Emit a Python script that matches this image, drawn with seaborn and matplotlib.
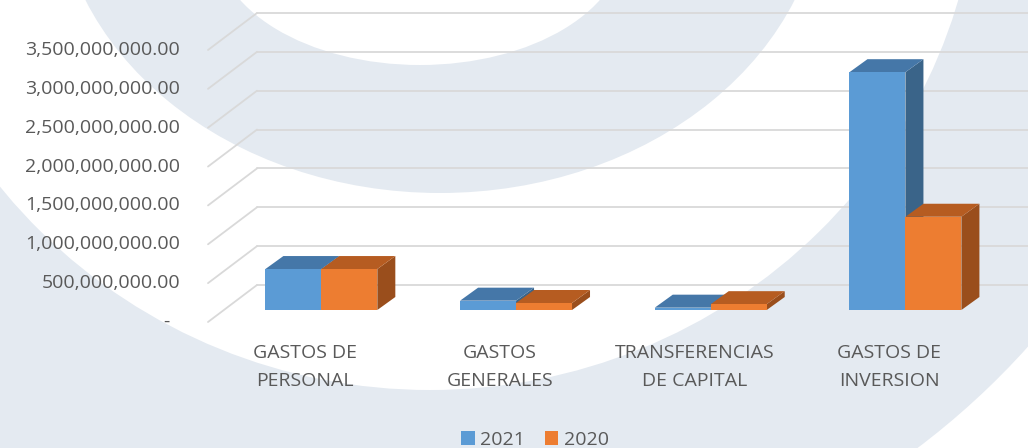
import pandas as pd
import seaborn as sb
import matplotlib.pyplot as plt
from matplotlib.patches import Ellipse, Polygon

# data (pesos)
categorias = ['GASTOS DE\nPERSONAL', 'GASTOS\nGENERALES', 'TRANSFERENCIAS\nDE CAPITAL', 'GASTOS DE\nINVERSION']
valores_2021 = [527000000, 120000000, 30000000, 3060000000]
valores_2020 = [527000000, 90000000, 75000000, 1200000000]
anios = ['2021', '2020']
yticks = [0, 500000000, 1000000000, 1500000000, 2000000000, 2500000000, 3000000000, 3500000000]

df = pd.DataFrame({
    'categoria': categorias * 2,
    'valor': valores_2021 + valores_2020,
    'anio': [anios[0]] * 4 + [anios[1]] * 4,
})

front_colors = ['#5B9BD5', '#ED7D31']
top_colors = ['#4577A8', '#B65C21']
side_colors = ['#3A6489', '#9A4E1C']
text_color = '#595959'
grid_color = '#D9D9D9'

sb.set_style('white')
plt.rcParams['font.family'] = ['Open Sans', 'DejaVu Sans']

W, H = 1028, 448
fig = plt.figure(figsize=(W / 100, H / 100), dpi=100)

# faint watermark rings in the background
bg = fig.add_axes([0, 0, 1, 1], zorder=0)
bg.set_xlim(0, W)
bg.set_ylim(H, 0)
bg.axis('off')
wm = '#E4EAF1'
bg.add_patch(Ellipse((430, -150), 2 * 790, 2 * 760, color=wm, lw=0))
bg.add_patch(Ellipse((430, -150), 2 * 550, 2 * 540, color='white', lw=0))
bg.add_patch(Ellipse((440, -120), 2 * 384, 2 * 313, color=wm, lw=0))
bg.add_patch(Ellipse((420, -60), 2 * 205, 2 * 125, color='white', lw=0))

# main axes sits on the plane of the bars' front faces
ax = fig.add_axes([224 / W, 138 / H, 771 / W, 272 / H], zorder=1)
ax.patch.set_alpha(0)

sb.barplot(data=df, x='categoria', y='valor', hue='anio', hue_order=anios,
           palette=front_colors, saturation=1, width=0.575, linewidth=0,
           zorder=5, ax=ax)

x0, x1 = -0.5, 3.46
ymax = 3500000000
ax.set_xlim(x0, x1)
ax.set_ylim(0, ymax)
ppx = 771 / (x1 - x0)   # pixels per category unit
ppy = 272 / ymax        # pixels per peso

# offsets (px) of the front wall, back wall and bar depth
fdx, fdy = -16, -12
bdx, bdy = 33, 25
ddx, ddy = 18 / ppx, 13 / ppy

# gridlines: back wall + diagonal on the side wall
for v in yticks:
    ax.plot([x0 + bdx / ppx, x1 + bdx / ppx], [v + bdy / ppy, v + bdy / ppy],
            color=grid_color, lw=1.3, zorder=1, clip_on=False)
    ax.plot([x0 + fdx / ppx, x0 + bdx / ppx], [v + fdy / ppy, v + bdy / ppy],
            color=grid_color, lw=1.3, zorder=1, clip_on=False)
    lab = f'{v:,.2f}' if v else '-  '
    ax.text(x0 + (fdx - 28) / ppx, v + fdy / ppy, lab, ha='right', va='center',
            fontsize=14, color=text_color, zorder=6)

# 3D look: top and side faces from each bar
for i, cont in enumerate(ax.containers):
    for r in cont:
        bx, bw, bh = r.get_x(), r.get_width(), r.get_height()
        top = Polygon([(bx, bh), (bx + bw, bh), (bx + bw + ddx, bh + ddy), (bx + ddx, bh + ddy)],
                      closed=True, color=top_colors[i], lw=0, zorder=3 + i)
        side = Polygon([(bx + bw, 0), (bx + bw + ddx, ddy), (bx + bw + ddx, bh + ddy), (bx + bw, bh)],
                       closed=True, color=side_colors[i], lw=0, zorder=3 + i)
        ax.add_patch(side)
        ax.add_patch(top)

# category labels on the front floor edge
for i, c in enumerate(categorias):
    ax.text(i + fdx / ppx, (fdy - 22) / ppy, c, ha='center', va='top',
            fontsize=14, color=text_color, linespacing=1.72)

ax.set_xticks([])
ax.set_yticks([])
ax.set_xlabel('')
ax.set_ylabel('')
sb.despine(ax=ax, left=True, bottom=True)

sb.move_legend(ax, 'center', bbox_to_anchor=(535 / W, 8 / H), bbox_transform=fig.transFigure,
               ncol=2, frameon=False, title=None, fontsize=14, labelcolor=text_color,
               handlelength=0.7, handleheight=0.7, handletextpad=0.3, columnspacing=1.0)

fig.savefig('out.png', dpi=100)
